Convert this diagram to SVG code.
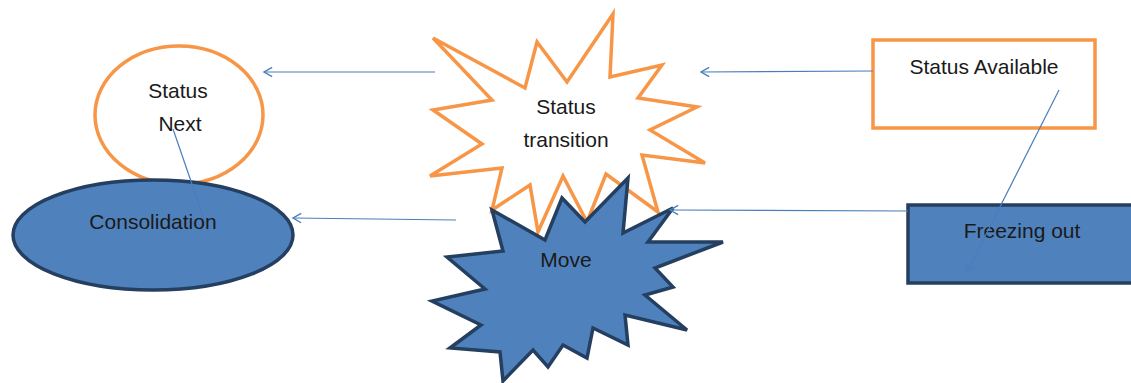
<svg xmlns="http://www.w3.org/2000/svg" width="1131" height="383" viewBox="0 0 1131 383">
<style>
.orange{fill:#FFFFFF;stroke:#F79646;stroke-width:3.5;stroke-linejoin:miter}
.blue{fill:#4F81BD;stroke:#243F60;stroke-width:3.5;stroke-linejoin:miter}
.lbl{font-family:"Liberation Sans",Arial,sans-serif;font-size:21px;fill:#1a1a1a;text-anchor:middle}
.conn{stroke:#4A7EBB;stroke-width:1.2;fill:none}
</style>
<defs>
<marker id="arr" markerUnits="userSpaceOnUse" markerWidth="14" markerHeight="14" viewBox="-8 -6 10 12" refX="0" refY="0" orient="auto">
<path d="M-7,-4 L0,0 L-7,4" fill="none" stroke="#4A7EBB" stroke-width="1.2"/>
</marker>
</defs>
<rect width="1131" height="383" fill="#FFFFFF"/>
<g id="status-next">
<ellipse class="orange" cx="179" cy="115" rx="84" ry="69"/>
<text class="lbl" x="178" y="98">Status</text>
<text class="lbl" x="180" y="131">Next</text>
</g>
<g id="consolidation">
<ellipse class="blue" cx="153" cy="235" rx="140" ry="55"/>
<text class="lbl" x="153" y="229">Consolidation</text>
</g>
<g id="status-transition">
<polygon class="orange" points="433,38 525,88 537,42 567,82 613,14 610,77 662,65 638,98 697,107 650,130 705,163 642,155 658,212 606,174 587,222 563,176 538,232 530,185 492,210 502,168 430,176 482,144 433,110 492,100"/>
<text class="lbl" x="566" y="114">Status</text>
<text class="lbl" x="566" y="147">transition</text>
</g>
<g id="move">
<polygon class="blue" points="492,210 545,240 562,198 585,222 628,178 623,233 673,208 648,242 723,242 655,268 673,287 645,295 687,330 625,315 628,345 593,328 587,358 563,345 548,367 533,350 503,381 500,352 450,348 481,325 432,301 485,289 447,257 503,251"/>
<text class="lbl" x="566" y="267">Move</text>
</g>
<g id="status-available">
<rect class="orange" x="873" y="40" width="222" height="88"/>
<text class="lbl" x="984" y="74">Status Available</text>
</g>
<g id="freezing-out">
<rect class="blue" x="908" y="205" width="240" height="78"/>
<text class="lbl" x="1022" y="238">Freezing out</text>
</g>
<g id="connectors">
<line class="conn" x1="435" y1="72" x2="264" y2="72" marker-end="url(#arr)"/>
<line class="conn" x1="456" y1="220" x2="293" y2="218" marker-end="url(#arr)"/>
<line class="conn" x1="873" y1="71" x2="701" y2="72" marker-end="url(#arr)"/>
<line class="conn" x1="908" y1="211" x2="670" y2="210" marker-end="url(#arr)"/>
<line class="conn" x1="1059" y1="90" x2="967" y2="272" marker-end="url(#arr)"/>
<line class="conn" x1="173" y1="129" x2="205" y2="222"/>
</g>
</svg>
